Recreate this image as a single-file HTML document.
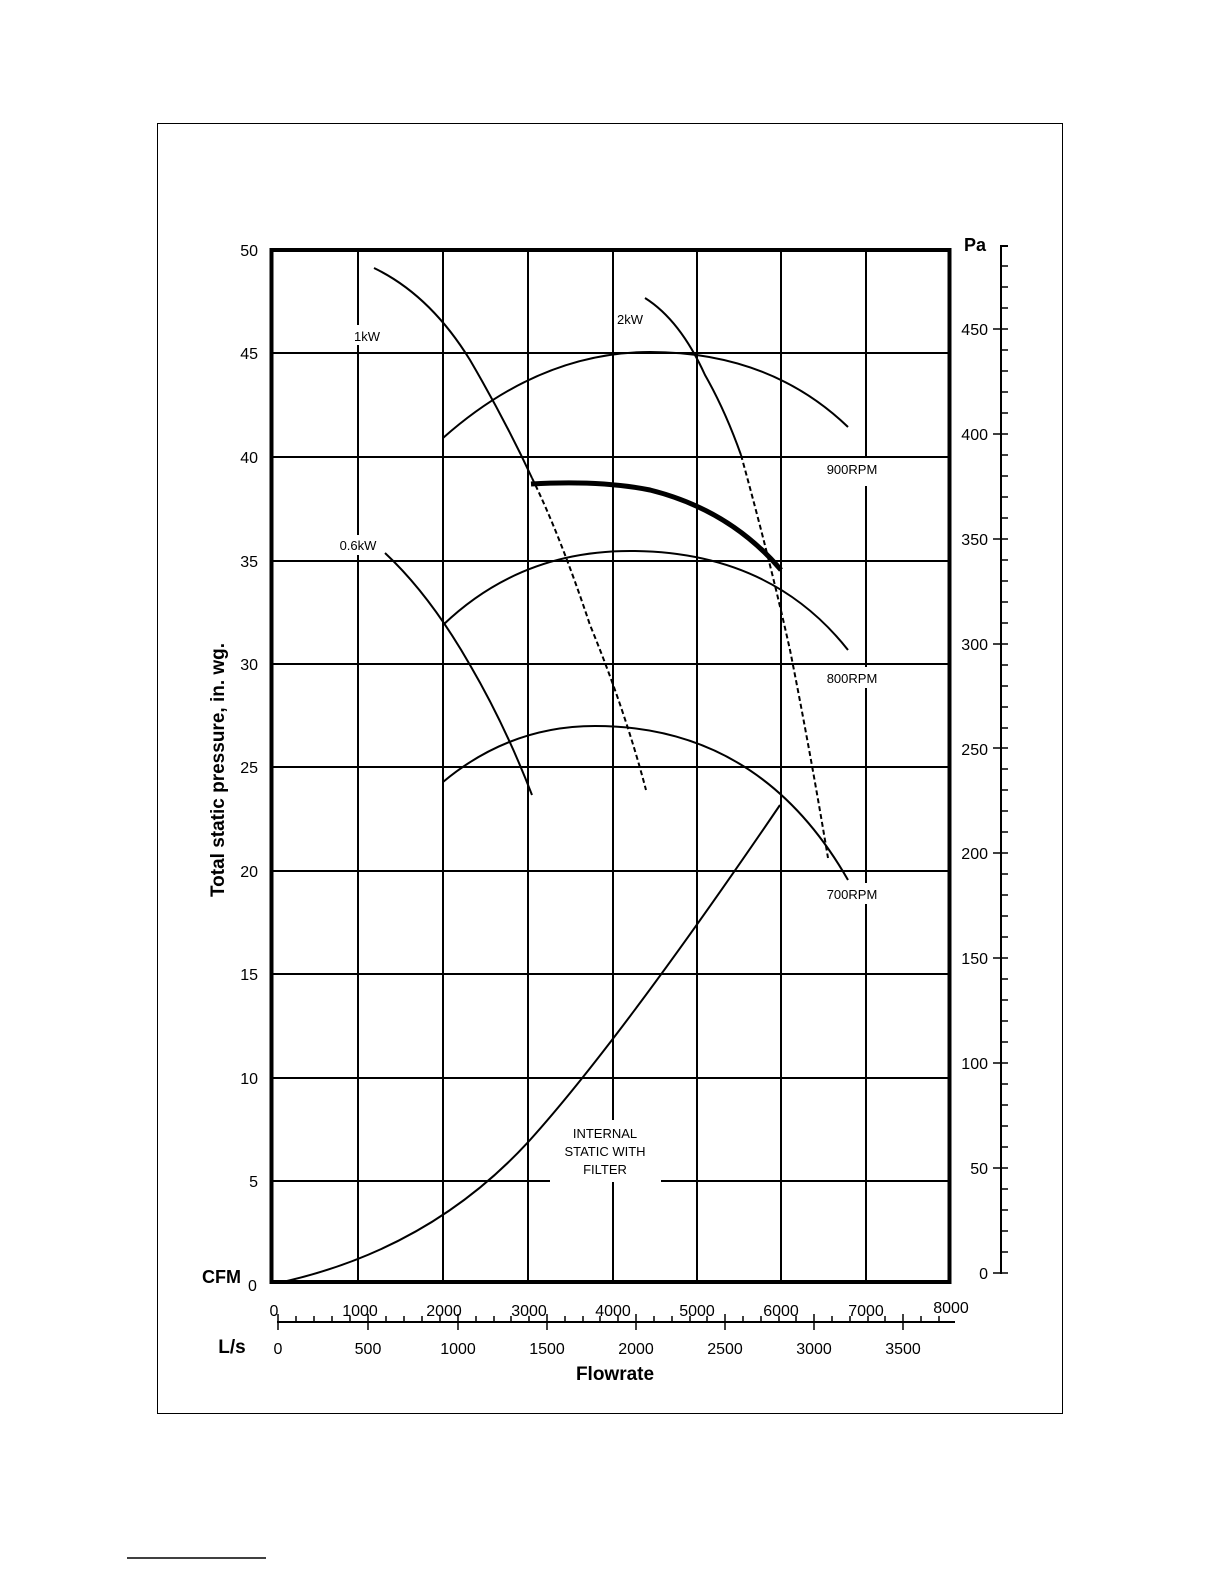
<!DOCTYPE html>
<html><head><meta charset="utf-8"><style>
html,body{margin:0;padding:0;background:#fff;}
svg{display:block;font-family:"Liberation Sans",Arial,sans-serif;}
</style></head><body>
<svg width="1224" height="1584" viewBox="0 0 1224 1584" xmlns="http://www.w3.org/2000/svg">
<rect x="157.5" y="123.5" width="905" height="1290" fill="none" stroke="#000" stroke-width="1"/>
<line x1="127" y1="1558" x2="266" y2="1558" stroke="#000" stroke-width="1.5"/>
<!-- vertical grid -->
<g stroke="#000" stroke-width="2">
<line x1="358" y1="250" x2="358" y2="325"/><line x1="358" y1="345" x2="358" y2="535"/><line x1="358" y1="555" x2="358" y2="1283"/>
<line x1="443" y1="250" x2="443" y2="1283"/>
<line x1="528" y1="250" x2="528" y2="1283"/>
<line x1="613" y1="250" x2="613" y2="1120"/><line x1="613" y1="1182" x2="613" y2="1283"/>
<line x1="697" y1="250" x2="697" y2="1283"/>
<line x1="781" y1="250" x2="781" y2="1283"/>
<line x1="866" y1="250" x2="866" y2="458"/><line x1="866" y1="486" x2="866" y2="667"/><line x1="866" y1="688" x2="866" y2="883"/><line x1="866" y1="904" x2="866" y2="1283"/>
</g>
<!-- horizontal grid -->
<g stroke="#000" stroke-width="2">
<line x1="271" y1="353" x2="950" y2="353"/>
<line x1="271" y1="457" x2="950" y2="457"/>
<line x1="271" y1="561" x2="950" y2="561"/>
<line x1="271" y1="664" x2="950" y2="664"/>
<line x1="271" y1="767" x2="950" y2="767"/>
<line x1="271" y1="871" x2="950" y2="871"/>
<line x1="271" y1="974" x2="950" y2="974"/>
<line x1="271" y1="1078" x2="950" y2="1078"/>
<line x1="271" y1="1181" x2="550" y2="1181"/><line x1="661" y1="1181" x2="950" y2="1181"/>
</g>
<rect x="271.5" y="250" width="678" height="1032" fill="none" stroke="#000" stroke-width="4"/>
<!-- curves -->
<g fill="none" stroke="#000" stroke-width="2">
<path d="M443,438 Q540,352 650,352 Q770,352 848,427"/>
<path d="M443,625 Q520,551 630,551 Q770,551 848,650"/>
<path d="M443,782 Q510,726 595,726 Q760,726 848,880"/>
<path d="M374,268 Q430,295 470,360 Q505,420 532,478"/>
<path d="M532,478 Q560,535 590,625 Q625,710 646,790" stroke-dasharray="5,3"/>
<path d="M645,298 Q680,320 705,375 Q725,410 741,455"/>
<path d="M741,455 Q770,560 790,650 Q810,750 828,858" stroke-dasharray="5,3"/>
<path d="M385,553 Q430,595 470,665 Q505,725 532,795"/>
<path d="M278,1283 Q430,1250 530,1140 Q620,1040 780,805"/>
<path d="M531,484 Q600,480 650,490 Q730,510 781,570" stroke-width="5"/>
</g>
<!-- labels in plot -->
<g font-size="13" text-anchor="middle" fill="#000">
<text x="367" y="341">1kW</text>
<text x="630" y="324">2kW</text>
<text x="358" y="550">0.6kW</text>
<text x="852" y="474">900RPM</text>
<text x="852" y="683">800RPM</text>
<text x="852" y="899">700RPM</text>
<text x="605" y="1138">INTERNAL</text>
<text x="605" y="1156">STATIC WITH</text>
<text x="605" y="1174">FILTER</text>
</g>
<!-- left axis labels -->
<g font-size="16" text-anchor="end">
<text x="258" y="256">50</text><text x="258" y="359">45</text><text x="258" y="463">40</text>
<text x="258" y="567">35</text><text x="258" y="670">30</text><text x="258" y="773">25</text>
<text x="258" y="877">20</text><text x="258" y="980">15</text><text x="258" y="1084">10</text>
<text x="258" y="1187">5</text>
</g>
<text x="202" y="1283" font-size="18" font-weight="bold">CFM</text>
<text x="248" y="1291" font-size="16">0</text>
<text transform="translate(224,770) rotate(-90)" font-size="19" font-weight="bold" text-anchor="middle">Total static pressure, in. wg.</text>
<!-- right axis -->
<g stroke="#000" stroke-width="2">
<line x1="1001" y1="245" x2="1001" y2="1274"/>
<line x1="1001" y1="246" x2="1008" y2="246"/>
</g>
<g stroke="#000" stroke-width="1.5" id="pa"></g>
<text x="975" y="251" font-size="18" font-weight="bold" text-anchor="middle">Pa</text>
<g font-size="16" text-anchor="end">
<text x="988" y="335">450</text><text x="988" y="440">400</text><text x="988" y="545">350</text>
<text x="988" y="650">300</text><text x="988" y="755">250</text><text x="988" y="859">200</text>
<text x="988" y="964">150</text><text x="988" y="1069">100</text><text x="988" y="1174">50</text>
<text x="988" y="1279">0</text>
</g>
<!-- CFM labels -->
<g font-size="16" text-anchor="middle">
<text x="274" y="1316">0</text><text x="360" y="1316">1000</text><text x="444" y="1316">2000</text>
<text x="529" y="1316">3000</text><text x="613" y="1316">4000</text><text x="697" y="1316">5000</text>
<text x="781" y="1316">6000</text><text x="866" y="1316">7000</text><text x="951" y="1313">8000</text>
</g>
<!-- L/s axis -->
<line x1="277" y1="1322" x2="955" y2="1322" stroke="#000" stroke-width="2"/>
<g id="ls" stroke="#000" stroke-width="1.5"></g>
<text x="232" y="1353" font-size="19" font-weight="bold" text-anchor="middle">L/s</text>
<g font-size="16" text-anchor="middle">
<text x="278" y="1354">0</text><text x="368" y="1354">500</text><text x="458" y="1354">1000</text>
<text x="547" y="1354">1500</text><text x="636" y="1354">2000</text><text x="725" y="1354">2500</text>
<text x="814" y="1354">3000</text><text x="903" y="1354">3500</text>
</g>
<text x="615" y="1380" font-size="19" font-weight="bold" text-anchor="middle">Flowrate</text>
<!-- ticks generated statically -->
<g stroke="#000" stroke-width="1.5">
<path d="M993,329H1008M993,434H1008M993,539H1008M993,644H1008M993,748H1008M993,853H1008M993,958H1008M993,1063H1008M993,1168H1008M993,1273H1008"/>
<path d="M1001,266H1008M1001,287H1008M1001,308H1008M1001,350H1008M1001,371H1008M1001,392H1008M1001,413H1008M1001,455H1008M1001,476H1008M1001,497H1008M1001,518H1008M1001,560H1008M1001,581H1008M1001,602H1008M1001,623H1008M1001,665H1008M1001,686H1008M1001,707H1008M1001,728H1008M1001,769H1008M1001,790H1008M1001,811H1008M1001,832H1008M1001,874H1008M1001,895H1008M1001,916H1008M1001,937H1008M1001,979H1008M1001,1000H1008M1001,1021H1008M1001,1042H1008M1001,1084H1008M1001,1105H1008M1001,1126H1008M1001,1147H1008M1001,1189H1008M1001,1210H1008M1001,1231H1008M1001,1252H1008"/>
<path d="M278,1314V1330M368,1314V1330M458,1314V1330M547,1314V1330M636,1314V1330M725,1314V1330M814,1314V1330M903,1314V1330"/>
<path d="M296,1316V1322M314,1316V1322M332,1316V1322M350,1316V1322M386,1316V1322M404,1316V1322M422,1316V1322M440,1316V1322M476,1316V1322M494,1316V1322M511,1316V1322M529,1316V1322M565,1316V1322M583,1316V1322M600,1316V1322M618,1316V1322M654,1316V1322M672,1316V1322M690,1316V1322M707,1316V1322M743,1316V1322M761,1316V1322M779,1316V1322M796,1316V1322M832,1316V1322M850,1316V1322M868,1316V1322M885,1316V1322M921,1316V1322M939,1316V1322"/>
</g>
</svg>
</body></html>
